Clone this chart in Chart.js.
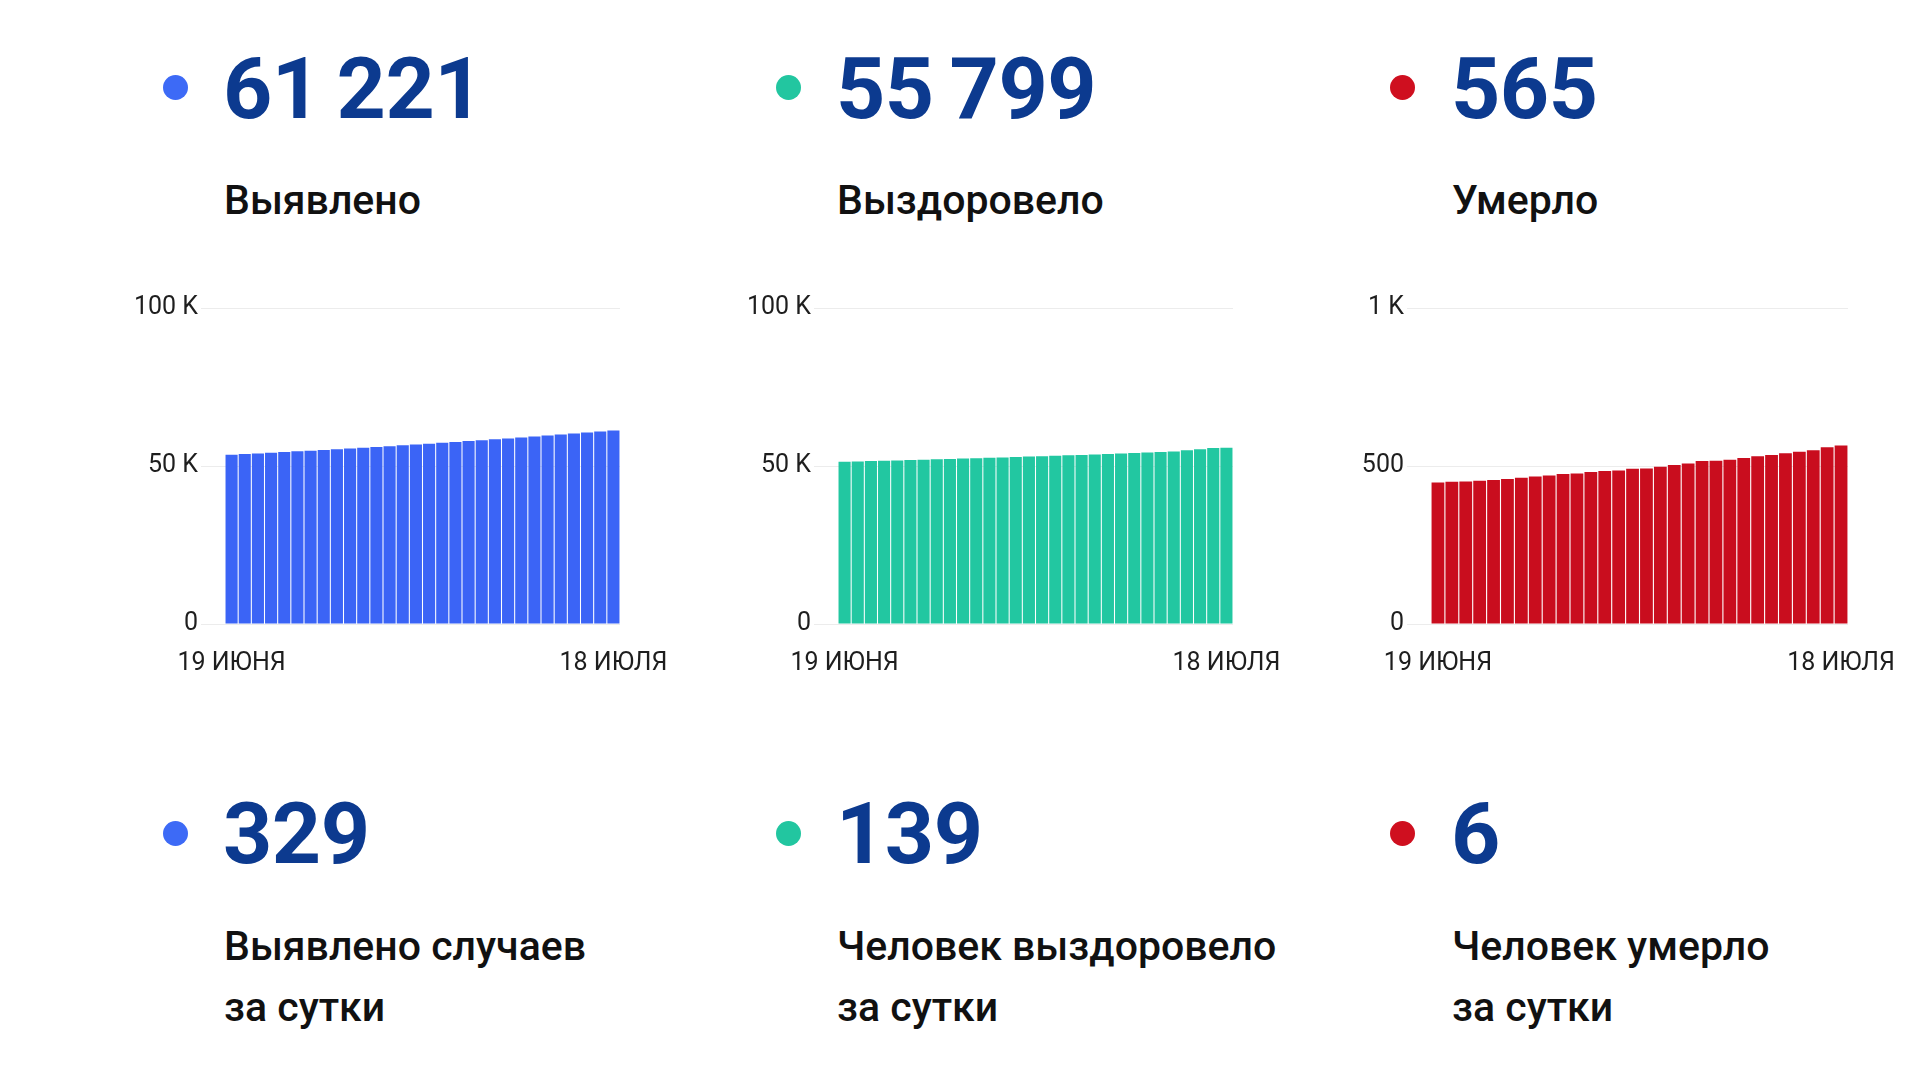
<!DOCTYPE html>
<html lang="ru">
<head>
<meta charset="utf-8">
<script src="https://cdn.jsdelivr.net/npm/chart.js@4.4.1/dist/chart.umd.min.js"></script>
<style>
  html, body { margin: 0; padding: 0; background: #ffffff; }
  #stage { position: relative; width: 1920px; height: 1080px; overflow: hidden; background: #fff; font-family: Roboto, "Noto Sans", sans-serif; }
  .dot { position: absolute; width: 25px; height: 25px; border-radius: 50%; }
  .num { position: absolute; font-family: Roboto, sans-serif; font-weight: 700; font-size: 86px; line-height: 86px; color: #0c3a8f; white-space: nowrap; letter-spacing: -0.5px; word-spacing: -5px; }
  .lbl { position: absolute; font-family: Roboto, sans-serif; font-weight: 500; font-size: 41px; line-height: 50px; color: #111111; white-space: nowrap; }
  .lbl2 { line-height: 61px; }
  canvas { position: absolute; }
</style>
</head>
<body>
<div id="stage">
  <div class="dot" style="left:163px;top:75px;background:#3d6af6"></div>
  <div class="num" style="left:223px;top:46px">61 221</div>
  <div class="lbl" style="left:224px;top:175px">Выявлено</div>

  <div class="dot" style="left:776px;top:75px;background:#22c6a0"></div>
  <div class="num" style="left:836px;top:46px">55 799</div>
  <div class="lbl" style="left:837px;top:175px">Выздоровело</div>

  <div class="dot" style="left:1390px;top:75px;background:#cf0f1f"></div>
  <div class="num" style="left:1451px;top:46px">565</div>
  <div class="lbl" style="left:1452px;top:175px">Умерло</div>

  <div class="dot" style="left:163px;top:821px;background:#3d6af6"></div>
  <div class="num" style="left:223px;top:791px">329</div>
  <div class="lbl lbl2" style="left:224px;top:916px">Выявлено случаев<br>за сутки</div>

  <div class="dot" style="left:776px;top:821px;background:#22c6a0"></div>
  <div class="num" style="left:836px;top:791px">139</div>
  <div class="lbl lbl2" style="left:837px;top:916px">Человек выздоровело<br>за сутки</div>

  <div class="dot" style="left:1390px;top:821px;background:#cf0f1f"></div>
  <div class="num" style="left:1451px;top:791px">6</div>
  <div class="lbl lbl2" style="left:1452px;top:916px">Человек умерло<br>за сутки</div>

  <canvas id="c1"></canvas>
  <canvas id="c2"></canvas>
  <canvas id="c3"></canvas>
</div>
<script>
// ---- data ----
const dates = [
  '19 ИЮНЯ','20 ИЮНЯ','21 ИЮНЯ','22 ИЮНЯ','23 ИЮНЯ','24 ИЮНЯ','25 ИЮНЯ','26 ИЮНЯ','27 ИЮНЯ','28 ИЮНЯ','29 ИЮНЯ','30 ИЮНЯ',
  '1 ИЮЛЯ','2 ИЮЛЯ','3 ИЮЛЯ','4 ИЮЛЯ','5 ИЮЛЯ','6 ИЮЛЯ','7 ИЮЛЯ','8 ИЮЛЯ','9 ИЮЛЯ','10 ИЮЛЯ','11 ИЮЛЯ','12 ИЮЛЯ',
  '13 ИЮЛЯ','14 ИЮЛЯ','15 ИЮЛЯ','16 ИЮЛЯ','17 ИЮЛЯ','18 ИЮЛЯ'
];
const detected = [53590, 53790, 53990, 54190, 54420, 54640, 54860, 55100, 55320, 55550,
                  55790, 56040, 56270, 56540, 56800, 57060, 57330, 57620, 57880, 58160,
                  58450, 58740, 59010, 59330, 59630, 59940, 60250, 60570, 60892, 61221];
const recovered = [51350, 51450, 51560, 51670, 51780, 51890, 52000, 52110, 52230, 52350,
                   52470, 52590, 52710, 52840, 52970, 53100, 53230, 53370, 53510, 53650,
                   53800, 53950, 54100, 54260, 54420, 54590, 54960, 55330, 55660, 55799];
const deaths = [448, 450, 451, 453, 456, 459, 463, 467, 470, 475,
                476, 481, 484, 486, 491, 492, 498, 503, 508, 516,
                517, 520, 525, 531, 535, 540, 545, 550, 559, 565];
const yTicksK = [0, 50000, 100000];
const yTicksDeaths = [0, 500, 1000];

// ---- layout helpers ----
const PLOT_TOP = 308, PLOT_BOTTOM = 624;
const Y_AXIS_W = 95, PAD_TOP = 15, PAD_RIGHT = 62, X_AXIS_H = 60;

function fmt(v) {
  if (v === 0) return '0';
  if (v >= 1000) return (v / 1000) + ' K';
  return String(v);
}

function makeChart(id, left, right, values, ticks, color) {
  const cv = document.getElementById(id);
  const w = Y_AXIS_W + (right - left) + PAD_RIGHT;
  const h = PAD_TOP + (PLOT_BOTTOM - PLOT_TOP) + X_AXIS_H;
  cv.width = w; cv.height = h;
  cv.style.width = w + 'px'; cv.style.height = h + 'px';
  cv.style.left = (left - Y_AXIS_W) + 'px';
  cv.style.top = (PLOT_TOP - PAD_TOP) + 'px';
  const tickFont = { family: 'Roboto', size: 25, weight: '400' };
  return new Chart(cv, {
    type: 'bar',
    data: {
      labels: dates,
      datasets: [{ data: values, backgroundColor: color, borderWidth: 0,
                   categoryPercentage: 0.92, barPercentage: 1.0 }]
    },
    options: {
      responsive: false,
      animation: false,
      devicePixelRatio: 1,
      layout: { padding: { left: 0, top: PAD_TOP, right: PAD_RIGHT, bottom: 0 } },
      plugins: { legend: { display: false }, tooltip: { enabled: false } },
      scales: {
        x: {
          offset: true,
          grid: { display: false, drawTicks: false },
          border: { display: false },
          ticks: {
            autoSkip: false, maxRotation: 0, minRotation: 0,
            padding: 25, color: '#1e1e1e', font: tickFont,
            callback: (val, idx) => (idx === 0 || idx === dates.length - 1) ? dates[idx] : ''
          },
          afterFit: (s) => { s.height = X_AXIS_H; s.paddingLeft = 0; s.paddingRight = 0; }
        },
        y: {
          min: ticks[0], max: ticks[ticks.length - 1],
          afterBuildTicks: (s) => { s.ticks = ticks.map(v => ({ value: v })); },
          grid: { color: '#ececec', lineWidth: 1, drawTicks: true, tickLength: 24 },
          border: { display: false },
          ticks: { padding: 3, color: '#1e1e1e', font: tickFont, callback: (v) => fmt(v) },
          afterFit: (s) => { s.width = Y_AXIS_W; s.paddingTop = 0; s.paddingBottom = 0; }
        }
      }
    }
  });
}

makeChart('c1', 225, 620, detected, yTicksK, '#3b64f6');
makeChart('c2', 838, 1233, recovered, yTicksK, '#22c7a1');
makeChart('c3', 1431, 1848, deaths, yTicksDeaths, '#c90d1e');
</script>
</body>
</html>
